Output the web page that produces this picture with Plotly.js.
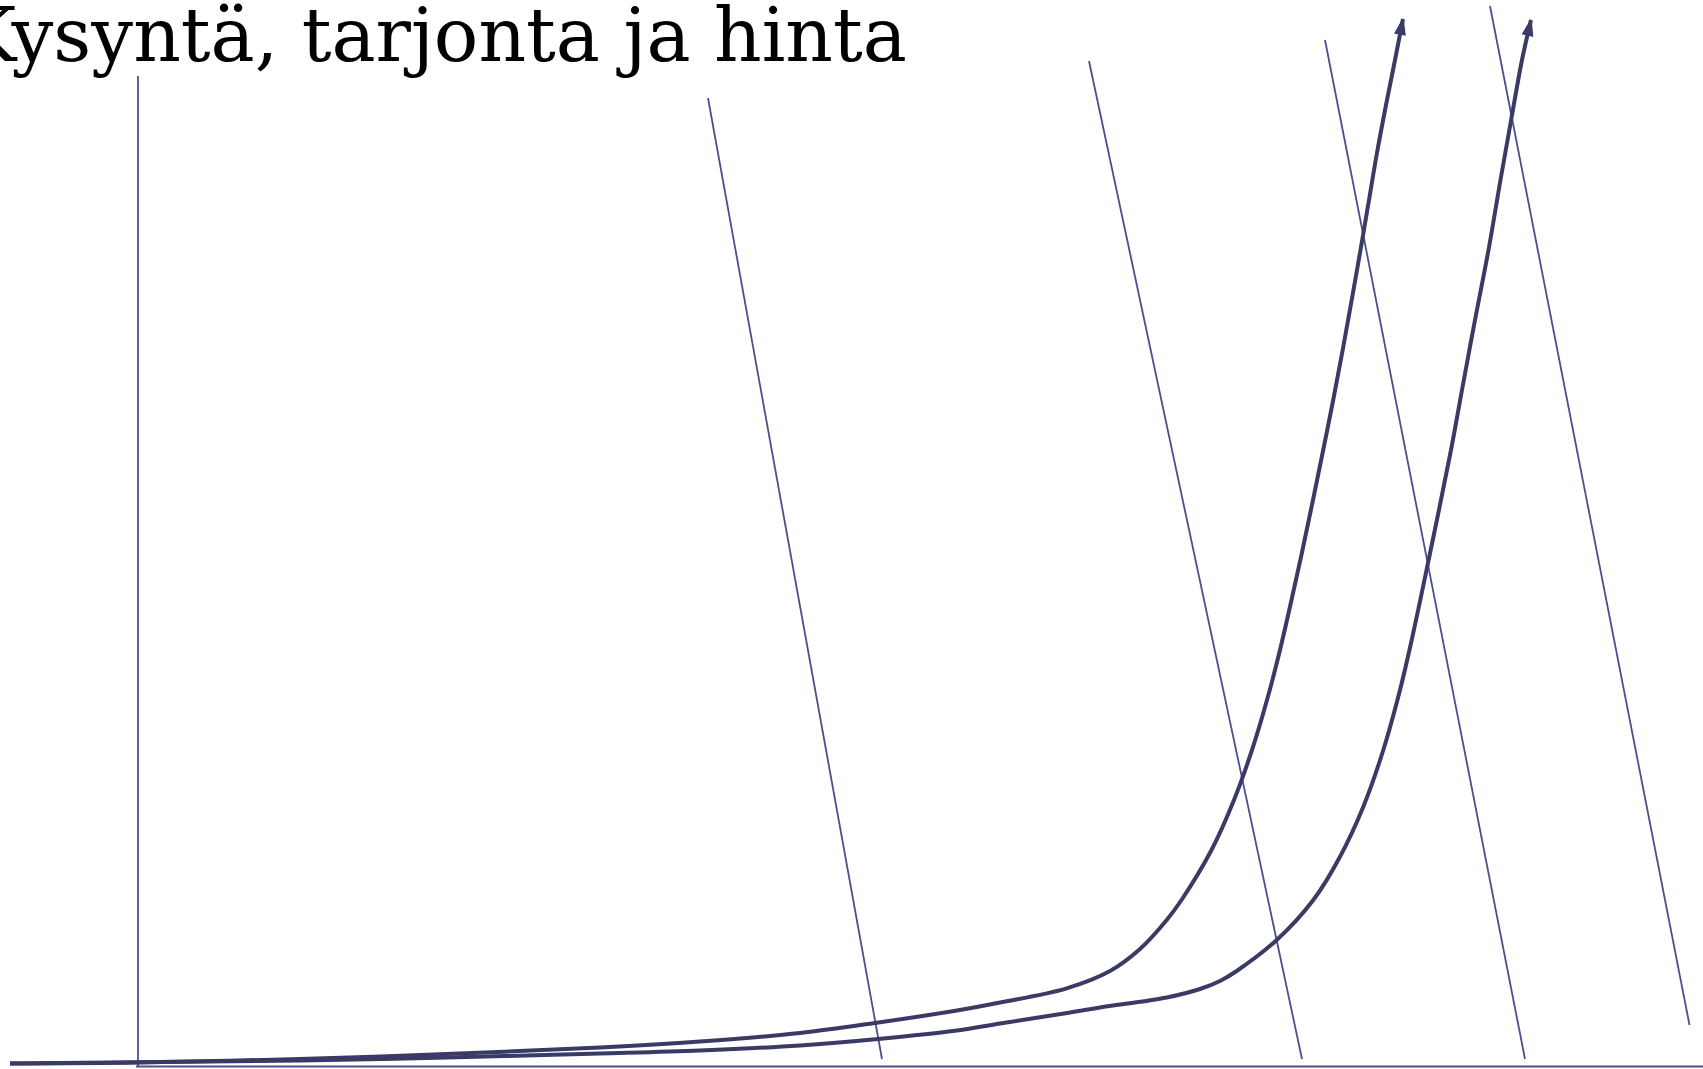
<!DOCTYPE html>
<html>
<head>
<meta charset="utf-8">
<script src="https://cdn.plot.ly/plotly-3.0.1.min.js"></script>
<style>
  html, body { margin: 0; padding: 0; background: #ffffff; }
  #chart { width: 1703px; height: 1069px; }
</style>
</head>
<body>
<div id="chart"></div>
<script>
// Title
const titleText = "Kysyntä, tarjonta ja hinta";

// Axes of the diagram (quantity q, price p)
const priceAxisQ = [0, 0];
const priceAxisP = [0, 990.5];
const quantityAxisQ = [-2, 1565];
const quantityAxisP = [0, 0];

// Demand lines (straight, downward sloping)
const demand1Q = [570, 744];
const demand1P = [968.5, 7.5];
const demand2Q = [951, 1164];
const demand2P = [1005.5, 7.5];
const demand3Q = [1187, 1387];
const demand3P = [1026.5, 7.5];
const demand4Q = [1352, 1551.5];
const demand4P = [1060.5, 41.5];

// Supply curve 1 (left)
const supply1Q = [-128, 0, 162, 308, 462, 562, 662, 737, 819, 862, 928.7, 972, 1002, 1028.7, 1043.5, 1073.5, 1096, 1114, 1129, 1142, 1153.5, 1164.5, 1175, 1185.2, 1195.2, 1204.7, 1213.7, 1222.5, 1231, 1239.5, 1249, 1257, 1265];
const supply1P = [3, 4, 7.5, 12.5, 19, 25, 33.5, 43.5, 56, 64, 78.2, 95.5, 117.5, 146.5, 166.5, 216.5, 266.5, 316.5, 366.5, 416.5, 466.5, 516.5, 566.5, 616.5, 666.5, 716.5, 766.5, 816.5, 866.5, 916.5, 966.5, 1006.5, 1047.5];

// Supply curve 2 (right)
const supply2Q = [-128, 162, 308, 462, 562, 662, 740, 819, 862, 926, 962, 1028.7, 1062, 1082, 1098.7, 1138.7, 1175.3, 1202, 1225.3, 1245.3, 1262, 1273.7, 1290, 1313, 1324, 1337, 1350.5, 1363, 1374, 1384, 1393];
const supply2P = [3, 6, 9, 13, 16, 21, 27.5, 36, 43, 53, 59, 69, 77.5, 85.5, 95.5, 126.5, 166.5, 209.8, 259.8, 316.5, 376.5, 426.5, 503.5, 616.5, 676.5, 746.5, 816.5, 889.5, 951.5, 1006.5, 1046.5];

const axisColor = '#4d528c';
const demandColor = '#4b4f8c';
const supplyColor = '#3a3a66';

function thinLine(q, p, color, w) {
  return { x: q, y: p, type: 'scatter', mode: 'lines', hoverinfo: 'skip',
           line: { color: color, width: w }, showlegend: false };
}
function supplyCurve(q, p) {
  return { x: q, y: p, type: 'scatter', mode: 'lines', hoverinfo: 'skip',
           line: { color: supplyColor, width: 4, shape: 'spline', smoothing: 1 },
           showlegend: false };
}
// Arrowhead at the end of a supply curve, oriented along its last segment
function arrowHead(q, p) {
  const n = q.length;
  const dq = q[n - 1] - q[n - 2];
  const dp = p[n - 1] - p[n - 2];
  const ang = Math.atan2(dq, dp) * 180 / Math.PI; // clockwise from up (1 unit = 1 px here)
  return { x: [q[n - 1]], y: [p[n - 1]], type: 'scatter', mode: 'markers', hoverinfo: 'skip',
           marker: { symbol: 'arrow', angleref: 'up', angle: ang, size: 16, color: supplyColor,
                     line: { color: supplyColor, width: 1.5 } },
           showlegend: false };
}

const traces = [
  thinLine(priceAxisQ, priceAxisP, axisColor, 1.8),
  thinLine(quantityAxisQ, quantityAxisP, axisColor, 2),
  thinLine(demand1Q, demand1P, demandColor, 1.8),
  thinLine(demand2Q, demand2P, demandColor, 1.8),
  thinLine(demand3Q, demand3P, demandColor, 1.8),
  thinLine(demand4Q, demand4P, demandColor, 1.8),
  supplyCurve(supply1Q, supply1P),
  supplyCurve(supply2Q, supply2P),
  arrowHead(supply1Q, supply1P),
  arrowHead(supply2Q, supply2P)
];

const layout = {
  width: 1703,
  height: 1069,
  margin: { l: 0, r: 0, t: 0, b: 0, pad: 0 },
  paper_bgcolor: '#ffffff',
  plot_bgcolor: '#ffffff',
  showlegend: false,
  xaxis: { range: [-138, 1565], visible: false, fixedrange: true },
  yaxis: { range: [-2.5, 1066.5], visible: false, fixedrange: true },
  annotations: [{
    text: titleText,
    xref: 'paper', yref: 'paper',
    x: 909 / 1703, xanchor: 'right',
    y: 1, yanchor: 'top', yshift: 10,
    showarrow: false,
    font: { family: 'DejaVu Serif', size: 74, color: '#000000' }
  }]
};

Plotly.newPlot('chart', traces, layout, { displayModeBar: false, staticPlot: true });
</script>
</body>
</html>
